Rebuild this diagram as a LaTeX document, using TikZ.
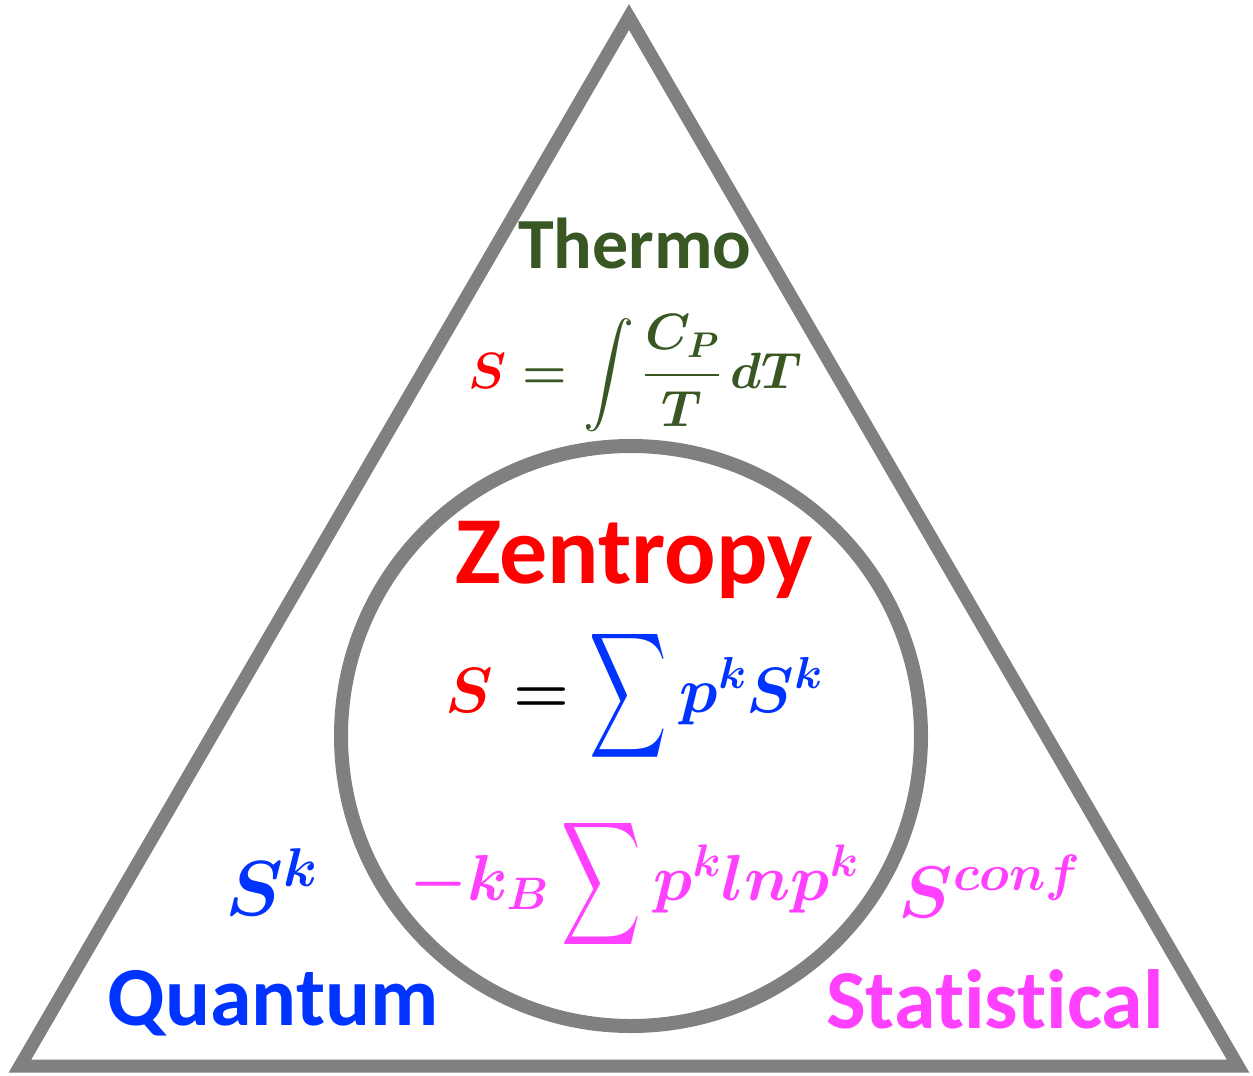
\RequirePackage{fix-cm}
\documentclass[tikz,border=0pt]{standalone}
\usepackage{fontspec}
\usepackage{graphicx}
\setsansfont{Carlito}[RawFeature={-liga;-clig;-calt}]

% let the large symbols scale with the font size
\DeclareFontFamily{OMX}{cmex}{}
\DeclareFontShape{OMX}{cmex}{m}{n}{<->cmex10}{}

\definecolor{thermogreen}{HTML}{385723}
\definecolor{quantblue}{HTML}{0033FF}
\definecolor{statmagenta}{HTML}{FF40FF}
\definecolor{rimgray}{HTML}{808080}

% tall, narrow sum sign, centred on the math axis
\newcommand{\zsum}[2]{\mathop{\vcenter{\hbox{\scalebox{#1}[#2]{$\displaystyle\sum$}}}}}

\tikzset{
  rim/.style={line width=13pt, color=rimgray, line join=miter},
  heading/.style={font=\sffamily\bfseries\fontsize{#1}{#1}\selectfont, anchor=base, inner sep=0pt},
  mathtext/.style={font=\boldmath\fontsize{#1}{#1}\selectfont, anchor=base, inner sep=0pt},
}

\begin{document}
\begin{tikzpicture}[x=1pt, y=-1pt]
  \useasboundingbox (0,0) rectangle (1253,1076);

  % Triangle and inner circle
  \draw[rim] (629,17) -- (20,1066) -- (1238,1066) -- cycle;
  \draw[rim, line width=14pt] (631,736) circle (290);

  % Thermo (top corner)
  \node[heading=72, text=thermogreen] (thermo) at (635,268) {Thermo};
  \node[mathtext=51, text=thermogreen] (thermoeq) at (635,388)
    {$\displaystyle {\color{red}S} = \int \frac{C_P}{T}\,dT$};

  % Zentropy (circle)
  \node[heading=96, text=red] (zentropy) at (634,583) {Zentropy};
  \node[mathtext=64, text=quantblue] (zentropyeq) at (634,712)
    {${\color{red}S} \mathrel{\color{black}=} \zsum{0.84}{1.37} p^k S^k$};
  \node[mathtext=65, text=statmagenta] (confeq) at (634,900)
    {$-k_B \zsum{0.85}{1.33} p^k lnp^k$};

  % Quantum (left corner)
  \node[mathtext=78, text=quantblue] (sk) at (272,915) {$S^k$};
  \node[heading=84, text=quantblue] (quantum) at (273,1025) {Quantum};

  % Statistical (right corner)
  \node[mathtext=73, text=statmagenta] (sconf) at (990,917) {$S^{conf}$};
  \node[heading=84, text=statmagenta] (statistical) at (995,1028) {Statistical};

\end{tikzpicture}
\end{document}
